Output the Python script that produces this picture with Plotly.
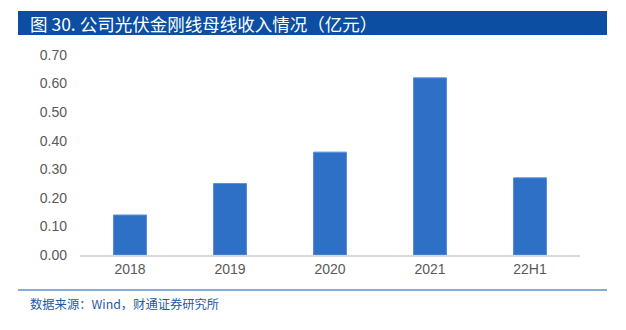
import plotly.graph_objects as go

# 公司光伏金刚线母线收入（亿元）
categories = ["2018", "2019", "2020", "2021", "22H1"]
revenue = [0.14, 0.25, 0.36, 0.62, 0.27]
y_ticks = [0.0, 0.1, 0.2, 0.3, 0.4, 0.5, 0.6, 0.7]

W, H = 626, 330
L, R, T, B = 80, 46, 55, 75
PW, PH = W - L - R, H - T - B


def px_x(px):
    return (px - L) / PW


def px_y(py):
    return (H - B - py) / PH


fig = go.Figure(
    go.Bar(
        x=categories,
        y=revenue,
        marker=dict(color="#2E70C6", line=dict(color="#5A8FD6", width=1)),
        width=0.33,
    )
)

num_font = "Arial, Liberation Sans, sans-serif"
cjk_font = "Noto Sans CJK SC, sans-serif"

fig.update_layout(
    width=W,
    height=H,
    margin=dict(l=L, r=R, t=T, b=B),
    plot_bgcolor="white",
    paper_bgcolor="white",
    showlegend=False,
    xaxis=dict(
        showline=True,
        linecolor="#D9D9D9",
        linewidth=2,
        showgrid=False,
        ticks="",
        tickfont=dict(family=num_font, size=14, color="#595959"),
    ),
    yaxis=dict(
        range=[0, 0.7],
        tickvals=y_ticks,
        tickformat=".2f",
        showgrid=False,
        zeroline=False,
        showline=False,
        ticks="",
        ticklabelstandoff=12,
        tickfont=dict(family=num_font, size=14, color="#595959"),
    ),
    shapes=[
        # title banner
        dict(type="rect", xref="paper", yref="paper",
             x0=px_x(18), x1=px_x(607), y0=px_y(35), y1=px_y(11),
             fillcolor="#0B4EA2", line=dict(width=0), layer="below"),
        # rule above the source note
        dict(type="line", xref="paper", yref="paper",
             x0=px_x(18), x1=px_x(607), y0=px_y(290), y1=px_y(290),
             line=dict(color="#5B8FCC", width=1.5)),
    ],
    annotations=[
        dict(text="图 30. 公司光伏金刚线母线收入情况（亿元）",
             xref="paper", yref="paper", x=px_x(28), y=px_y(23),
             xanchor="left", yanchor="middle", showarrow=False,
             font=dict(family=cjk_font, size=17.5, color="white")),
        dict(text="数据来源：Wind，财通证券研究所",
             xref="paper", yref="paper", x=px_x(28), y=px_y(304),
             xanchor="left", yanchor="middle", showarrow=False,
             font=dict(family=cjk_font, size=12.3, color="#1F5AA6")),
    ],
)

fig.write_html("out.html")
